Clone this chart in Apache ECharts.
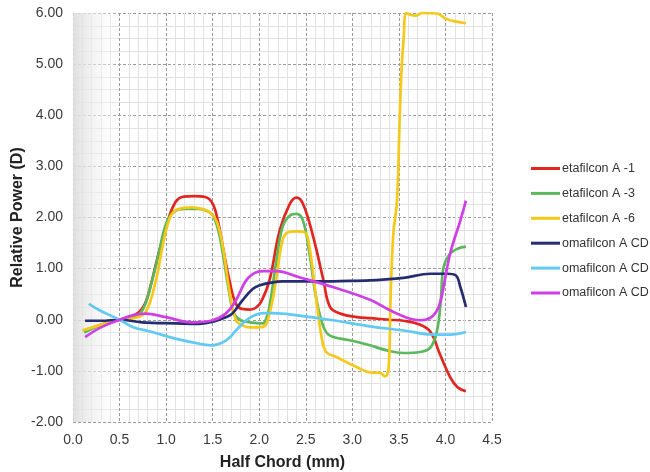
<!DOCTYPE html>
<html>
<head>
<meta charset="utf-8">
<script src="https://cdn.jsdelivr.net/npm/echarts@6/dist/echarts.min.js"></script>
<style>
  html, body { margin: 0; padding: 0; background: #ffffff; }
  #chart { width: 650px; height: 472px; }
</style>
</head>
<body>
<div id="chart"></div>
<script>
// Relative power profiles across the half chord of each lens, [half chord mm, power D]
const seriesNames = [
  'etafilcon A -1',
  'etafilcon A -3',
  'etafilcon A -6',
  'omafilcon A CD (a)',
  'omafilcon A CD (b)',
  'omafilcon A CD (c)'
];
const legendLabels = [
  'etafilcon A -1',
  'etafilcon A -3',
  'etafilcon A -6',
  'omafilcon A CD',
  'omafilcon A CD',
  'omafilcon A CD'
];

const etafilconA1 = [
  [0.12,-0.22],[0.3,-0.1],[0.5,0],[0.62,0.06],[0.71,0.15],[0.77,0.3],[0.82,0.57],[0.92,1.3],
  [1.03,2.0],[1.1,2.3],[1.17,2.4],[1.3,2.42],[1.42,2.4],[1.5,2.27],[1.56,1.9],[1.61,1.42],
  [1.68,0.77],[1.75,0.31],[1.82,0.21],[1.9,0.2],[1.96,0.23],[2.02,0.35],[2.11,0.77],[2.22,1.75],
  [2.33,2.27],[2.4,2.39],[2.47,2.27],[2.58,1.62],[2.69,0.77],[2.76,0.25],[2.87,0.12],[3.05,0.05],
  [3.2,0.03],[3.4,0.0],[3.55,-0.02],[3.73,-0.1],[3.84,-0.24],[3.94,-0.67],[4.05,-1.12],[4.13,-1.32],
  [4.22,-1.4]
];

const etafilconA3 = [
  [0.12,-0.25],[0.3,-0.1],[0.5,0],[0.65,0.05],[0.75,0.2],[0.85,0.77],[0.92,1.29],[1.0,1.88],
  [1.09,2.12],[1.2,2.17],[1.35,2.17],[1.45,2.12],[1.5,2.05],[1.56,1.75],[1.61,1.29],[1.68,0.51],
  [1.73,0.12],[1.8,-0.01],[1.9,-0.05],[2.04,-0.07],[2.08,0.05],[2.11,0.25],[2.18,1.1],[2.25,1.81],
  [2.33,2.04],[2.4,2.07],[2.47,1.94],[2.54,1.29],[2.61,0.44],[2.69,-0.14],[2.76,-0.31],[2.97,-0.4],
  [3.19,-0.5],[3.37,-0.6],[3.55,-0.65],[3.73,-0.63],[3.84,-0.54],[3.91,-0.21],[3.95,0.38],[3.98,1.03],
  [4.05,1.29],[4.13,1.39],[4.22,1.43]
];

const etafilconA6 = [
  [0.1,-0.21],[0.3,-0.1],[0.5,0],[0.65,0.03],[0.78,0.15],[0.89,0.77],[0.96,1.42],[1.03,1.94],
  [1.1,2.14],[1.28,2.2],[1.4,2.16],[1.46,2.11],[1.54,1.94],[1.61,1.42],[1.68,0.57],[1.75,-0.01],
  [1.82,-0.11],[1.9,-0.15],[2.04,-0.14],[2.11,0.12],[2.18,0.77],[2.25,1.55],[2.31,1.71],[2.4,1.73],
  [2.49,1.71],[2.54,1.42],[2.61,0.44],[2.67,-0.34],[2.72,-0.63],[2.83,-0.73],[3.05,-0.93],[3.19,-1.03],
  [3.3,-1.04],[3.35,-1.11],[3.39,-0.93],[3.41,0.38],[3.44,1.68],[3.48,2.33],[3.51,4.03],[3.53,4.94],
  [3.55,5.47],[3.58,6.0],[3.63,5.96],[3.68,5.95],[3.75,6.0],[3.91,5.99],[4.0,5.89],[4.09,5.84],
  [4.22,5.8]
];

const omafilconCD1 = [
  [0.13,-0.02],[0.3,-0.02],[0.5,0.0],[0.74,-0.05],[1.1,-0.07],[1.36,-0.08],[1.54,-0.02],[1.64,0.05],
  [1.71,0.12],[1.82,0.38],[1.93,0.6],[2.0,0.67],[2.11,0.72],[2.25,0.75],[2.62,0.75],[2.97,0.76],
  [3.19,0.77],[3.3,0.78],[3.55,0.82],[3.84,0.9],[4.02,0.9],[4.11,0.87],[4.16,0.64],[4.22,0.25]
];

const omafilconCD2 = [
  [0.17,0.31],[0.3,0.17],[0.5,0],[0.64,-0.14],[0.85,-0.24],[1.1,-0.37],[1.36,-0.47],[1.5,-0.5],
  [1.6,-0.45],[1.68,-0.35],[1.75,-0.21],[1.86,-0.01],[1.95,0.09],[2.05,0.13],[2.15,0.13],[2.43,0.08],
  [2.79,-0.01],[3.19,-0.13],[3.55,-0.21],[3.87,-0.29],[4.05,-0.29],[4.22,-0.24]
];

const omafilconCD3 = [
  [0.13,-0.34],[0.3,-0.15],[0.5,0],[0.65,0.09],[0.78,0.12],[1.0,0.05],[1.28,-0.05],[1.5,-0.01],
  [1.64,0.12],[1.75,0.38],[1.86,0.77],[1.97,0.93],[2.05,0.95],[2.18,0.95],[2.43,0.83],[2.79,0.64],
  [3.19,0.39],[3.41,0.18],[3.62,0.02],[3.73,-0.01],[3.83,0.03],[3.9,0.15],[3.95,0.38],[4.05,1.29],
  [4.16,1.94],[4.22,2.33]
];

const seriesData = [etafilconA1, etafilconA3, etafilconA6, omafilconCD1, omafilconCD2, omafilconCD3];
const seriesColors = ['#e0261f', '#5cb85c', '#f5c81a', '#252d70', '#62c9f2', '#cf3fe6'];

// Axis ranges and tick steps
const xMin = 0, xMax = 4.5, xStep = 0.5;
const yMin = -2, yMax = 6, yStep = 1;

const chart = echarts.init(document.getElementById('chart'), null, { renderer: 'canvas' });

const lineSeries = seriesData.map((d, i) => ({
  name: seriesNames[i],
  type: 'line',
  data: d,
  showSymbol: false,
  symbol: 'none',
  smooth: 0.4,
  clip: true,
  z: 3,
  lineStyle: { width: 2.7, color: seriesColors[i] },
  itemStyle: { color: seriesColors[i] },
  emphasis: { disabled: true }
}));

// Translucent grey veil over the central zone
lineSeries.push({
  name: 'veil',
  type: 'line',
  data: [],
  z: 10,
  silent: true,
  markArea: {
    silent: true,
    itemStyle: {
      color: new echarts.graphic.LinearGradient(0, 0, 1, 0, [
        { offset: 0, color: 'rgba(220,220,220,0.9)' },
        { offset: 0.3, color: 'rgba(232,232,232,0.75)' },
        { offset: 0.7, color: 'rgba(246,246,246,0.45)' },
        { offset: 1, color: 'rgba(255,255,255,0)' }
      ])
    },
    data: [[{ xAxis: 0, yAxis: yMin }, { xAxis: 0.5, yAxis: yMax }]]
  }
});

const axisFont = { fontFamily: 'Liberation Sans, Arial, sans-serif', fontSize: 14, color: '#3a3a3a' };
const titleFont = { fontFamily: 'Liberation Sans, Arial, sans-serif', fontSize: 16, fontWeight: 'bold', color: '#222' };

chart.setOption({
  animation: false,
  backgroundColor: '#ffffff',
  grid: { left: 73, top: 13, width: 419, height: 409, containLabel: false, outerBoundsMode: 'none' },
  legend: {
    data: seriesNames.map((n, i) => ({
      name: n,
      icon: 'rect',
      itemStyle: { color: seriesColors[i] }
    })),
    formatter: name => legendLabels[seriesNames.indexOf(name)],
    orient: 'vertical',
    left: 531,
    top: 162,
    padding: 0,
    itemWidth: 29,
    itemHeight: 3,
    itemGap: 11.9,
    selectedMode: false,
    textStyle: { fontFamily: 'Liberation Sans, Arial, sans-serif', fontSize: 12.5, color: '#333', padding: [0, 0, 0, -3] }
  },
  xAxis: {
    type: 'value',
    min: xMin,
    max: xMax,
    interval: xStep,
    name: 'Half Chord (mm)',
    nameLocation: 'middle',
    nameGap: 33,
    nameMoveOverlap: false,
    nameTextStyle: titleFont,
    axisLine: { show: false },
    axisTick: { show: false },
    axisLabel: { ...axisFont, margin: 11, formatter: v => v.toFixed(1) },
    splitLine: { show: true, lineStyle: { color: '#9a9a9a', type: [3, 2], width: 1 } },
    minorTick: { show: false, splitNumber: 5 },
    minorSplitLine: { show: true, lineStyle: { color: '#e2e2e2', width: 1 } }
  },
  yAxis: {
    type: 'value',
    min: yMin,
    max: yMax,
    interval: yStep,
    name: 'Relative Power (D)',
    nameLocation: 'middle',
    nameGap: 47,
    nameMoveOverlap: false,
    nameRotate: 90,
    nameTextStyle: titleFont,
    axisLine: { show: false },
    axisTick: { show: false },
    axisLabel: { ...axisFont, margin: 10, formatter: v => v.toFixed(2) },
    splitLine: { show: true, lineStyle: { color: '#9a9a9a', type: [3, 2], width: 1 } },
    minorTick: { show: false, splitNumber: 4 },
    minorSplitLine: { show: true, lineStyle: { color: '#e2e2e2', width: 1 } }
  },
  series: lineSeries
});
</script>
</body>
</html>
